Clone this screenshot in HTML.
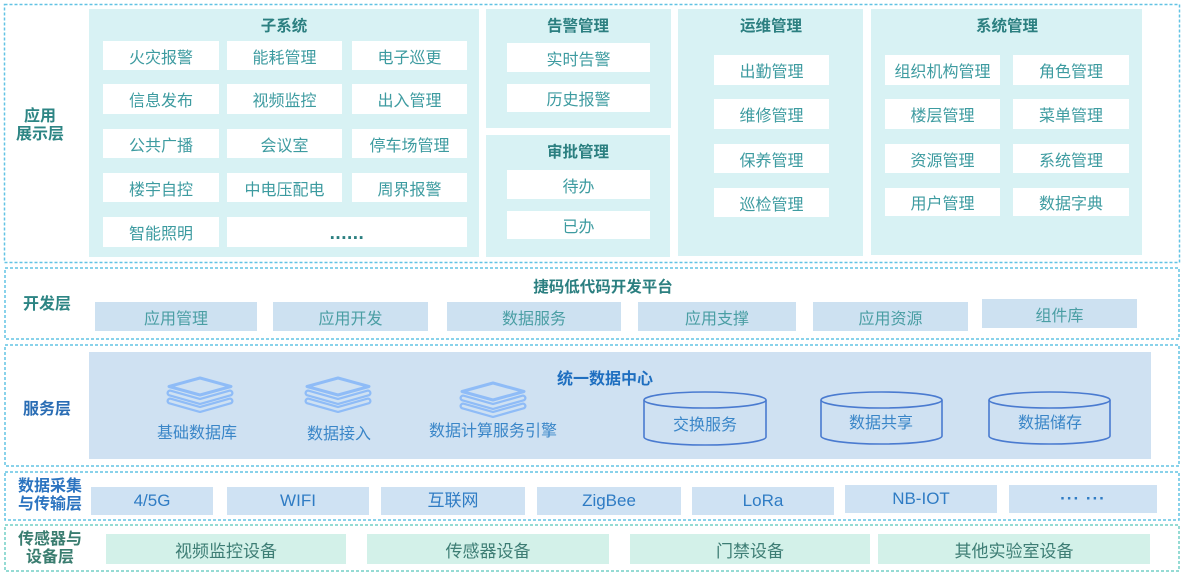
<!DOCTYPE html>
<html><head><meta charset="utf-8">
<style>
*{margin:0;padding:0;box-sizing:border-box}
body{width:1185px;height:573px;background:#fff;position:relative;overflow:hidden;font-family:"Liberation Sans","Noto Sans CJK SC",sans-serif}
.a{position:absolute}
.p{position:absolute;background:#d8f2f4}
.b{position:absolute;display:flex;align-items:center;justify-content:center;white-space:nowrap}
.w{background:#fff;color:#3d9ba0;font-size:16px}
.t{position:absolute;font-weight:bold;color:#2b7f80;font-size:15.5px;white-space:nowrap;transform:translate(-50%,-50%)}
.d{background:#cde1f1;color:#4a9ea4;font-size:16px}
.n{background:#cfe2f3;color:#2f7cc4;font-size:17px}
.g{background:#d3f1e9;color:#3d7d74;font-size:17px}
.lb{position:absolute;font-weight:bold;font-size:16px;line-height:18px;text-align:center;white-space:nowrap;transform:translate(-50%,-50%)}
.sl{position:absolute;color:#3a86c8;font-size:16px;white-space:nowrap;transform:translate(-50%,-50%)}
</style></head><body>

<!-- top panels -->
<div class="p" style="left:89px;top:9px;width:390px;height:248px"></div>
<div class="p" style="left:486px;top:9px;width:185px;height:119px"></div>
<div class="p" style="left:486px;top:135px;width:184px;height:122px"></div>
<div class="p" style="left:678px;top:9px;width:185px;height:247px"></div>
<div class="p" style="left:871px;top:9px;width:271px;height:246px"></div>

<div class="t" style="left:284px;top:25px">子系统</div>
<div class="t" style="left:578px;top:25px">告警管理</div>
<div class="t" style="left:578px;top:151px">审批管理</div>
<div class="t" style="left:771px;top:25px">运维管理</div>
<div class="t" style="left:1007px;top:25px">系统管理</div>

<!-- 子系统 items -->
<div class="b w" style="left:103px;top:41px;width:116px;height:29px">火灾报警</div>
<div class="b w" style="left:227px;top:41px;width:115px;height:29px">能耗管理</div>
<div class="b w" style="left:352px;top:41px;width:115px;height:29px">电子巡更</div>
<div class="b w" style="left:103px;top:84px;width:116px;height:30px">信息发布</div>
<div class="b w" style="left:227px;top:84px;width:115px;height:30px">视频监控</div>
<div class="b w" style="left:352px;top:84px;width:115px;height:30px">出入管理</div>
<div class="b w" style="left:103px;top:129px;width:116px;height:29px">公共广播</div>
<div class="b w" style="left:227px;top:129px;width:115px;height:29px">会议室</div>
<div class="b w" style="left:352px;top:129px;width:115px;height:29px">停车场管理</div>
<div class="b w" style="left:103px;top:173px;width:116px;height:29px">楼宇自控</div>
<div class="b w" style="left:227px;top:173px;width:115px;height:29px">中电压配电</div>
<div class="b w" style="left:352px;top:173px;width:115px;height:29px">周界报警</div>
<div class="b w" style="left:103px;top:217px;width:116px;height:30px">智能照明</div>
<div class="b w" style="left:227px;top:217px;width:240px;height:30px;color:#2b7f80;font-weight:bold;font-size:19px;letter-spacing:0.5px;line-height:1;padding-top:2px">......</div>

<!-- 告警 / 审批 -->
<div class="b w" style="left:507px;top:43px;width:143px;height:29px">实时告警</div>
<div class="b w" style="left:507px;top:84px;width:143px;height:28px">历史报警</div>
<div class="b w" style="left:507px;top:170px;width:143px;height:29px">待办</div>
<div class="b w" style="left:507px;top:211px;width:143px;height:28px">已办</div>

<!-- 运维 -->
<div class="b w" style="left:714px;top:55px;width:115px;height:30px">出勤管理</div>
<div class="b w" style="left:714px;top:99px;width:115px;height:30px">维修管理</div>
<div class="b w" style="left:714px;top:144px;width:115px;height:29px">保养管理</div>
<div class="b w" style="left:714px;top:188px;width:115px;height:29px">巡检管理</div>

<!-- 系统管理 -->
<div class="b w" style="left:885px;top:55px;width:115px;height:30px">组织机构管理</div>
<div class="b w" style="left:1013px;top:55px;width:116px;height:30px">角色管理</div>
<div class="b w" style="left:885px;top:99px;width:115px;height:30px">楼层管理</div>
<div class="b w" style="left:1013px;top:99px;width:116px;height:30px">菜单管理</div>
<div class="b w" style="left:885px;top:144px;width:115px;height:29px">资源管理</div>
<div class="b w" style="left:1013px;top:144px;width:116px;height:29px">系统管理</div>
<div class="b w" style="left:885px;top:188px;width:115px;height:28px">用户管理</div>
<div class="b w" style="left:1013px;top:188px;width:116px;height:28px">数据字典</div>

<!-- layer labels -->
<div class="lb" style="left:40px;top:126px;color:#2d8584">应用<br>展示层</div>
<div class="lb" style="left:47px;top:305px;color:#2d8584">开发层</div>
<div class="lb" style="left:47px;top:410px;color:#2a6db4">服务层</div>
<div class="lb" style="left:50px;top:496px;color:#2c74c0">数据采集<br>与传输层</div>
<div class="lb" style="left:50px;top:549px;color:#3a7d70">传感器与<br>设备层</div>

<!-- dev layer -->
<div class="t" style="left:603px;top:286px">捷码低代码开发平台</div>
<div class="b d" style="left:95px;top:302px;width:162px;height:29px">应用管理</div>
<div class="b d" style="left:273px;top:302px;width:155px;height:29px">应用开发</div>
<div class="b d" style="left:447px;top:302px;width:174px;height:29px">数据服务</div>
<div class="b d" style="left:638px;top:302px;width:158px;height:29px">应用支撑</div>
<div class="b d" style="left:813px;top:302px;width:155px;height:29px">应用资源</div>
<div class="b d" style="left:982px;top:299px;width:155px;height:29px">组件库</div>

<!-- service layer -->
<div class="a" style="left:89px;top:352px;width:1062px;height:107px;background:#cfe1f2"></div>
<div class="t" style="left:605px;top:377px;color:#1f6fc0;font-size:16px">统一数据中心</div>
<div class="sl" style="left:197px;top:431px">基础数据库</div>
<div class="sl" style="left:339px;top:432px">数据接入</div>
<div class="sl" style="left:493px;top:429px">数据计算服务引擎</div>
<div class="sl" style="left:705px;top:423px">交换服务</div>
<div class="sl" style="left:881px;top:421px">数据共享</div>
<div class="sl" style="left:1050px;top:421px">数据储存</div>

<!-- transport layer -->
<div class="b n" style="left:91px;top:487px;width:122px;height:28px">4/5G</div>
<div class="b n" style="left:227px;top:487px;width:142px;height:28px">WIFI</div>
<div class="b n" style="left:381px;top:487px;width:144px;height:28px;padding-bottom:6px">互联网</div>
<div class="b n" style="left:537px;top:487px;width:144px;height:28px">ZigBee</div>
<div class="b n" style="left:692px;top:487px;width:142px;height:28px">LoRa</div>
<div class="b n" style="left:845px;top:485px;width:152px;height:28px">NB-IOT</div>
<div class="b n" style="left:1009px;top:485px;width:148px;height:28px;font-weight:bold;letter-spacing:1px">··· ···</div>

<!-- device layer -->
<div class="b g" style="left:106px;top:534px;width:240px;height:30px">视频监控设备</div>
<div class="b g" style="left:367px;top:534px;width:242px;height:30px">传感器设备</div>
<div class="b g" style="left:630px;top:534px;width:240px;height:30px">门禁设备</div>
<div class="b g" style="left:878px;top:534px;width:272px;height:30px">其他实验室设备</div>

<svg class="a" style="left:0;top:0" width="1185" height="573" viewBox="0 0 1185 573">
  <g fill="none" stroke="#62c3e4" stroke-width="1.5" stroke-dasharray="3 2">
    <rect x="4.5" y="4.5" width="1175" height="258"/>
    <rect x="5" y="268" width="1174" height="71"/>
    <rect x="5" y="345" width="1174" height="121"/>
    <rect x="5" y="472" width="1174" height="48"/>
  </g>
  <rect x="5" y="525" width="1174" height="46" fill="none" stroke="#72cfc6" stroke-width="1.5" stroke-dasharray="3 2"/>

  <defs>
    <g id="ic">
      <path d="M3,16 L33,24.5 L63,16" fill="none" stroke="#8fbcf7" stroke-width="7" stroke-linejoin="round" stroke-linecap="round"/>
      <path d="M3,16 L33,24.5 L63,16" fill="none" stroke="#cfe1f2" stroke-width="2.5" stroke-linejoin="round" stroke-linecap="round"/>
      <path d="M3,24 L33,32.5 L63,24" fill="none" stroke="#8fbcf7" stroke-width="7" stroke-linejoin="round" stroke-linecap="round"/>
      <path d="M3,24 L33,32.5 L63,24" fill="none" stroke="#cfe1f2" stroke-width="2.5" stroke-linejoin="round" stroke-linecap="round"/>
      <path d="M2,9.5 L33,1 L64,9.5 L33,18 Z" fill="#cfe1f2" stroke="#8fbcf7" stroke-width="3" stroke-linejoin="round"/>
    </g>
  </defs>
  <use href="#ic" x="167" y="377"/>
  <use href="#ic" x="305" y="377"/>
  <use href="#ic" x="460" y="382"/>

  <g fill="none" stroke="#4a7bd0" stroke-width="1.6">
    <ellipse cx="705" cy="400" rx="61" ry="8"/>
    <path d="M644,400 L644,437 A61,8 0 0 0 766,437 L766,400"/>
    <ellipse cx="881.5" cy="400" rx="60.5" ry="8"/>
    <path d="M821,400 L821,436 A60.5,8 0 0 0 942,436 L942,400"/>
    <ellipse cx="1049.5" cy="400" rx="60.5" ry="8"/>
    <path d="M989,400 L989,436 A60.5,8 0 0 0 1110,436 L1110,400"/>
  </g>
</svg>
</body></html>
